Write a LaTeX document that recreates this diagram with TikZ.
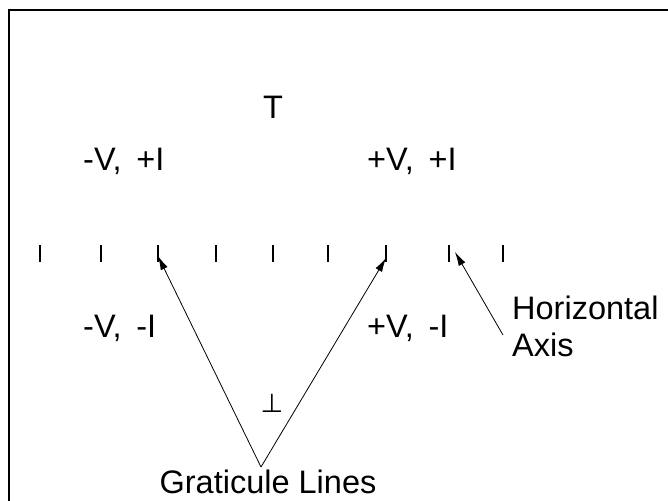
\documentclass[tikz,border=0pt]{standalone}
\usepackage{fontspec}
\setmainfont{Liberation Sans}
\newfontfamily\symfont{DejaVu Sans}
\usetikzlibrary{arrows.meta}
\begin{document}
\begin{tikzpicture}[x=1pt,y=-1pt,
  lbl/.style={inner sep=0pt, font=\fontsize{32.5}{37}\selectfont},
  tickmark/.style={line width=1.7pt},
  arr/.style={-{Latex[length=14pt,width=7.5pt]}, line width=0.8pt}]
\useasboundingbox (0,0) rectangle (668,500);
\draw[line width=2pt] (9,501) -- (9,10) -- (669,10);
% tick marks on the horizontal axis
\foreach \x [count=\i] in {40,101,158,216,273,328,386,449,503}
  \draw[tickmark] (\x,245) coordinate (t\i) -- (\x,262) coordinate (b\i);
% labels
\node[lbl] (top) at (273,107) {T};
\node[lbl, anchor=west] (q2) at (83,161) {-V,\hspace{0.45em}+I};
\node[lbl, anchor=west] (q1) at (367,161) {+V,\hspace{0.45em}+I};
\node[lbl, anchor=west] (q3) at (83,328) {-V,\hspace{0.45em}-I};
\node[lbl, anchor=west] (q4) at (367,328) {+V,\hspace{0.45em}-I};
\node[inner sep=0pt, font=\symfont\fontsize{26}{30}\selectfont] (bot) at (272,403) {⊥};
\node[lbl, align=left, anchor=west] (ha) at (512,326) {Horizontal\\Axis};
\node[lbl] (gl) at (268,482) {Graticule Lines};
% connectors
\coordinate (apex) at (261,467);
\coordinate (hastart) at (503,335);
\draw[arr] (apex) -- ([yshift=6pt]b3);
\draw[arr] (apex) -- ([yshift=4pt]b7);
\draw[arr] (hastart) -- ([xshift=6pt,yshift=10pt]b8);
\end{tikzpicture}
\end{document}
